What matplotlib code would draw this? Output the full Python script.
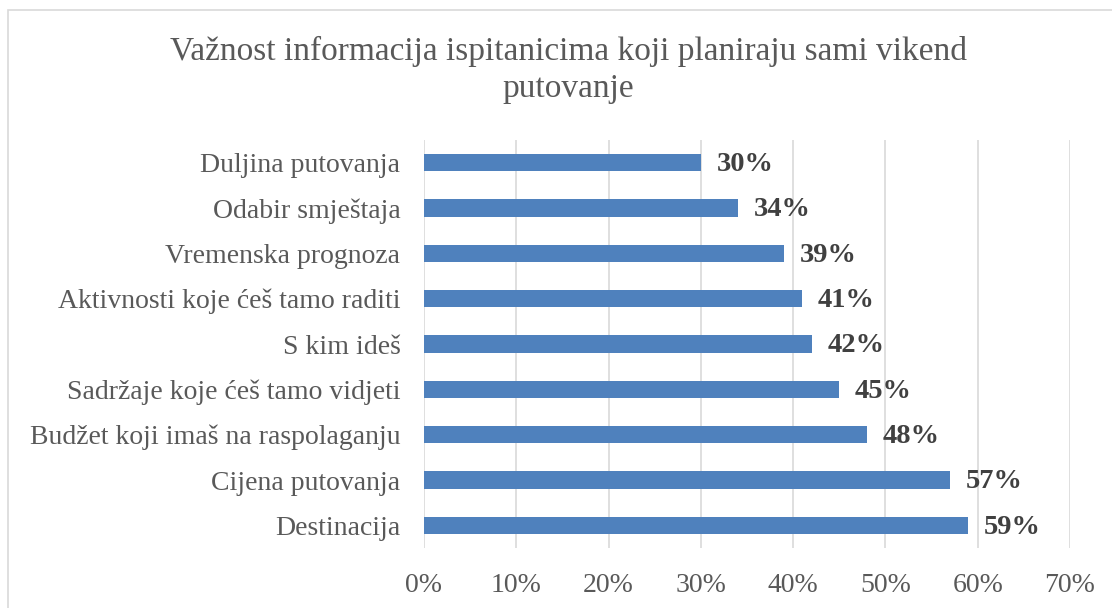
import matplotlib.pyplot as plt
from matplotlib.patches import Rectangle
from matplotlib.ticker import PercentFormatter

categories = ['Destinacija', 'Cijena putovanja', 'Budžet koji imaš na raspolaganju',
              'Sadržaje koje ćeš tamo vidjeti', 'S kim ideš',
              'Aktivnosti koje ćeš tamo raditi', 'Vremenska prognoza',
              'Odabir smještaja', 'Duljina putovanja']
values = [59, 57, 48, 45, 42, 41, 39, 34, 30]
xticks = [0, 10, 20, 30, 40, 50, 60, 70]

plt.rcParams['font.family'] = ['Liberation Serif', 'DejaVu Serif']

fig = plt.figure(figsize=(11.12, 6.08), dpi=100)
# chart frame (only left and top edges are inside the picture)
fig.patches.append(Rectangle((8 / 1112, -0.1), 1.2, 1 - 10 / 608 + 0.1,
                             transform=fig.transFigure, fill=False,
                             edgecolor='#D9D9D9', linewidth=1.2))

ax = fig.add_axes([424 / 1112, 60 / 608, 646 / 1112, 408 / 608])
ypos = range(len(categories))
ax.barh(ypos, values, height=0.38, color='#4F81BD', zorder=3)

for y, v in zip(ypos, values):
    ax.text(v + 1.7, y - 0.04, f'{v}%', va='center', ha='left', fontsize=20.5,
            fontweight='bold', color='#404040')

ax.set_xlim(0, 70)
ax.set_ylim(-0.5, len(categories) - 0.5)
ax.set_xticks(xticks)
ax.xaxis.set_major_formatter(PercentFormatter(decimals=0))
ax.set_yticks(list(ypos))
ax.set_yticklabels(categories)
ax.tick_params(axis='both', length=0, labelsize=20, labelcolor='#595959')
ax.tick_params(axis='x', pad=18)
ax.tick_params(axis='y', pad=17)
ax.grid(axis='x', color='#D9D9D9', linewidth=1.2, zorder=0)
for s in ax.spines.values():
    s.set_visible(False)

fig.text(568 / 1112, 1 - 70 / 608, 'Važnost informacija ispitanicima koji planiraju sami vikend\nputovanje',
         ha='center', va='center', fontsize=24, color='#595959', linespacing=1.3)

fig.savefig('out.png', dpi=100)
